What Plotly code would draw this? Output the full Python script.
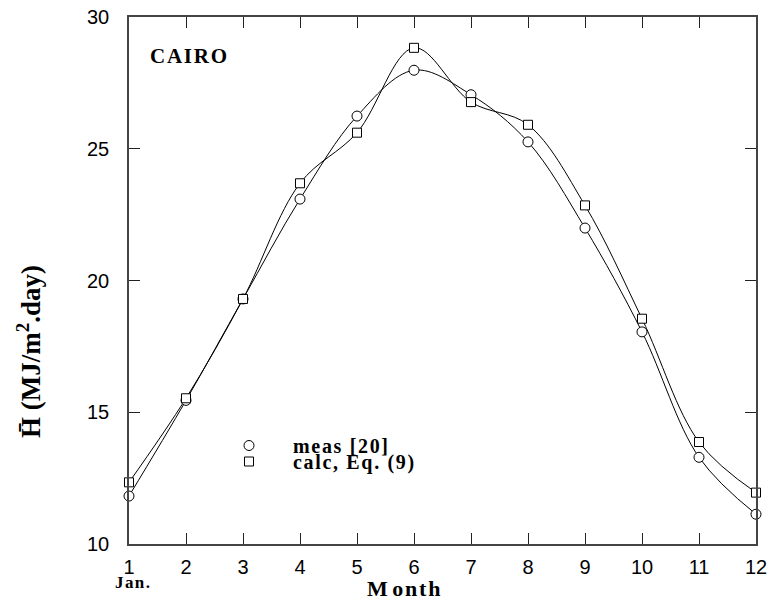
import plotly.graph_objects as go

months = [1, 2, 3, 4, 5, 6, 7, 8, 9, 10, 11, 12]
meas = [11.82, 15.45, 19.30, 23.09, 26.24, 27.98, 27.05, 25.26, 21.99, 18.05, 13.29, 11.13]
calc = [12.34, 15.53, 19.30, 23.69, 25.61, 28.83, 26.77, 25.91, 22.85, 18.55, 13.87, 11.95]
y_ticks = [10, 15, 20, 25, 30]

names = ["meas [20]", "calc, Eq. (9)"]

L, R, T, B = 129, 13, 17, 57
W, H = 769, 601
PW, PH = W - L - R, H - T - B


def px(x):
    return (x - L) / PW


def py(y):
    return (H - B - y) / PH


serif = "Liberation Serif, Times New Roman, serif"
sans = "Liberation Sans, Arial, sans-serif"

fig = go.Figure()
for ys in (meas, calc):
    fig.add_trace(go.Scatter(x=months, y=ys, mode="lines",
                             line=dict(color="black", width=1, shape="spline", smoothing=1),
                             showlegend=False, cliponaxis=False, hoverinfo="skip"))

fig.add_trace(go.Scatter(x=months, y=meas, mode="markers", name="\u2003\u2009" + "\u200a".join(names[0]),
                         marker=dict(symbol="circle", size=10, color="white",
                                     line=dict(color="black", width=1)),
                         cliponaxis=False, legend="legend"))
fig.add_trace(go.Scatter(x=months, y=calc, mode="markers", name="\u2003\u2009" + "\u200a".join(names[1]),
                         marker=dict(symbol="square", size=9, color="white",
                                     line=dict(color="black", width=1)),
                         cliponaxis=False, legend="legend2"))

axis_common = dict(showgrid=False, zeroline=False, showline=True, linecolor="#444", linewidth=1.5,
                   ticks="inside", ticklen=11, tickwidth=1, tickcolor="#222", mirror="ticks",
                   automargin=False,
                   tickfont=dict(family=sans, size=20, color="black", weight="normal"))

fig.update_xaxes(range=[1, 12], tickmode="array", tickvals=months, ticktext=[str(m) for m in months],
                 ticklabelstandoff=4, **axis_common)
fig.update_yaxes(range=[10, 30], tickmode="array", tickvals=y_ticks, ticktext=[str(v) for v in y_ticks],
                 ticklabelstandoff=14, **axis_common)


def note(text, x, y, size, angle=0):
    fig.add_annotation(text=text, x=px(x), y=py(y), xref="paper", yref="paper",
                       xanchor="center", yanchor="middle", textangle=angle, showarrow=False,
                       font=dict(family=serif, size=size, color="black", weight="bold"))


note("\u200a".join("CAIRO"), 188, 56, 21)
note("J\u200aa\u200an\u200a.", 132, 582, 17)
note("M\u2009o\u200an\u200at\u200ah", 403, 588, 22)
note("H\u0304 (MJ/m<sup>2</sup>.day)", 29, 352, 27, angle=-90)

leg_common = dict(xanchor="left", yanchor="top", bgcolor="rgba(0,0,0,0)",
                  font=dict(family=serif, size=20, color="black", weight="bold"), itemwidth=30)

fig.update_layout(
    width=W, height=H,
    margin=dict(l=L, r=R, t=T, b=B),
    paper_bgcolor="white", plot_bgcolor="white",
    font=dict(family=serif, size=20, color="black"),
    legend=dict(x=px(229), y=py(426), **leg_common),
    legend2=dict(x=px(229), y=py(442), **leg_common),
)

fig.write_html("out.html")
